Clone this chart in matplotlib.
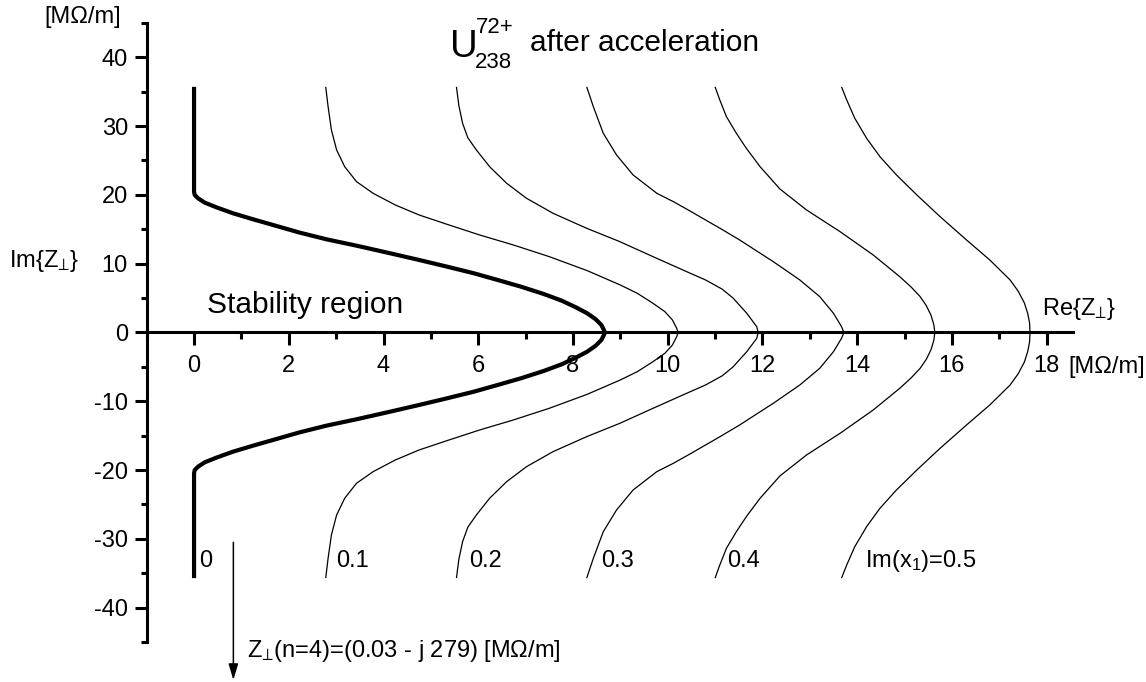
import matplotlib.pyplot as plt
from matplotlib.ticker import MultipleLocator

plt.rcParams['font.family'] = ['Liberation Sans', 'DejaVu Sans']
plt.rcParams['mathtext.fontset'] = 'custom'
plt.rcParams['mathtext.rm'] = 'Liberation Sans'
plt.rcParams['mathtext.it'] = 'Liberation Sans:italic'
plt.rcParams['mathtext.fallback'] = 'stixsans'
plt.rcParams['axes.unicode_minus'] = False

# Upper half (Im >= 0) of each stability boundary, Re and Im in MOhm/m;
# the lower half is the mirror image about Im = 0
curve_labels = ['0', '0.1', '0.2', '0.3', '0.4', 'Im(x$_1$)=0.5']

re_00 = [0, 0, 0.014, 0.085, 0.226, 0.472, 0.824, 1.246, 1.740, 2.232, 2.796,
         3.46, 4.14, 4.75, 5.34, 5.91, 6.41, 6.90, 7.38, 7.76, 8.06,
         8.30, 8.48, 8.60, 8.653, 8.674]
im_00 = [35.7, 20.47, 19.99, 19.50, 18.87, 18.19, 17.32, 16.45, 15.48, 14.51, 13.54,
         12.57, 11.51, 10.54, 9.57, 8.60, 7.63, 6.66, 5.60, 4.63, 3.66,
         2.79, 1.92, 1.09, 0.36, 0]

re_01 = [2.78, 2.83, 2.90, 3.01, 3.18, 3.43, 3.78, 4.25, 4.75, 5.38, 6.03, 6.74,
         7.50, 8.30, 9.00, 9.36, 9.69, 9.94, 10.10, 10.19, 10.22]
im_01 = [35.7, 32.82, 29.43, 26.53, 24.10, 21.92, 20.23, 18.53, 17.08, 15.63, 14.17, 12.72,
         11.02, 8.99, 6.90, 5.69, 4.24, 3.03, 1.82, 0.61, 0]

re_02 = [5.54, 5.59, 5.67, 5.78, 5.96, 6.24, 6.60, 7.02, 7.58, 8.29, 8.99, 9.69,
         10.40, 10.80, 11.15, 11.38, 11.67, 11.88, 11.91]
im_02 = [35.7, 33.0, 30.4, 28.3, 26.53, 24.10, 21.68, 19.50, 17.32, 15.14, 13.20, 11.02,
         8.84, 7.63, 6.30, 5.00, 2.79, 0.85, 0]

re_03 = [8.29, 8.43, 8.64, 8.92, 9.27, 9.77, 10.12, 10.46, 10.80, 11.14, 11.52,
         12.23, 12.79, 13.21, 13.50, 13.67, 13.72]
im_03 = [35.7, 32.82, 28.95, 25.80, 22.89, 20.23, 19.01, 17.70, 16.35, 15.00, 13.44,
         10.29, 7.63, 5.21, 2.79, 0.85, 0]

re_04 = [11.00, 11.10, 11.24, 11.45, 11.66, 11.95, 12.37, 12.93, 13.64, 14.34,
         14.90, 15.14, 15.33, 15.46, 15.56, 15.62, 15.64]
im_04 = [35.7, 33.79, 31.37, 28.95, 26.77, 24.10, 20.85, 17.81, 14.65, 11.26,
         8.11, 6.60, 5.21, 3.90, 2.50, 1.10, 0]

re_05 = [13.67, 13.78, 13.95, 14.20, 14.48, 14.83, 15.26, 15.75, 16.31, 16.80,
         17.23, 17.40, 17.53, 17.60, 17.64, 17.65]
im_05 = [35.7, 33.79, 31.13, 28.22, 25.56, 22.89, 19.99, 16.84, 13.44, 10.54,
         7.63, 6.00, 4.30, 2.80, 1.40, 0]

curves = [(re_00, im_00), (re_01, im_01), (re_02, im_02),
          (re_03, im_03), (re_04, im_04), (re_05, im_05)]

fig = plt.figure(figsize=(11.46, 6.82), dpi=100)
ax = fig.add_axes([0.128, 0.0585, 0.808, 0.908])

# offsets (points) of the curve labels from the lower curve ends
label_dx = [3.6, 7.2, 9.4, 10.4, 8.6, 16.6]

for i, (re, im) in enumerate(curves):
    x = re + re[::-1][1:]
    y = im + [-v for v in im[::-1][1:]]
    lw = 3.0 if i == 0 else 0.9
    ax.plot(x, y, color='black', lw=lw, solid_capstyle='butt',
            solid_joinstyle='round')
    ax.annotate(curve_labels[i], xy=(re[0], -im[0]), xytext=(label_dx[i], 12),
                textcoords='offset points', ha='left', va='center', fontsize=17)

ax.set_xlim(-1.0, 18.55)
ax.set_ylim(-45, 45)

ax.spines['top'].set_visible(False)
ax.spines['right'].set_visible(False)
ax.spines['bottom'].set_position(('data', 0))
for s in ('left', 'bottom'):
    ax.spines[s].set_linewidth(2.2)

ax.xaxis.set_major_locator(MultipleLocator(2))
ax.xaxis.set_minor_locator(MultipleLocator(1))
ax.yaxis.set_major_locator(MultipleLocator(10))
ax.yaxis.set_minor_locator(MultipleLocator(5))
ax.tick_params(which='both', direction='out', width=2.2, labelsize=17)
ax.tick_params(axis='x', which='major', length=9, pad=7)
ax.tick_params(axis='x', which='minor', length=5)
ax.tick_params(axis='y', which='major', length=8.5, pad=5)
ax.tick_params(axis='y', which='minor', length=4.5)

perp = '$_{\u22a5}$'
ax.text(0.27, 2.81, 'Stability region', fontsize=21.5, va='baseline')
ax.text(17.9, 2.5, 'Re{Z' + perp + '}', fontsize=17, va='baseline')
ax.text(18.47, -5.0, '[M\u03a9/m]', fontsize=17, va='center')

# axis captions outside the frame
ax.text(-3.9, 10.4, 'Im{Z' + perp + '}', fontsize=17, va='center', clip_on=False)
ax.text(-3.15, 45.8, '[M\u03a9/m]', fontsize=17, va='center', clip_on=False)

# impedance of the n=4 mode lies far below the plotted range
ax.annotate('', xy=(0.83, -50.5), xytext=(0.83, -30.5),
            arrowprops=dict(arrowstyle='-|>,head_length=0.6,head_width=0.18',
                            color='black', lw=1.1, mutation_scale=16,
                            shrinkA=0, shrinkB=0),
            annotation_clip=False)
ax.text(1.11, -46.3, 'Z' + perp + '(n=4)=(0.03 - j 279) [M\u03a9/m]',
        fontsize=17, va='center', clip_on=False)

# title: ion species and charge state
W, H = 1146, 682
fig.text(450 / W, 1 - 56.7 / H, 'U', fontsize=27.5, va='baseline')
fig.text(476 / W, 1 - 33 / H, '72+', fontsize=16, va='baseline')
fig.text(475 / W, 1 - 68 / H, '238', fontsize=16, va='baseline')
fig.text(530.5 / W, 1 - 51 / H, 'after acceleration', fontsize=21.5, va='baseline')

fig.savefig('out.png', dpi=100)
